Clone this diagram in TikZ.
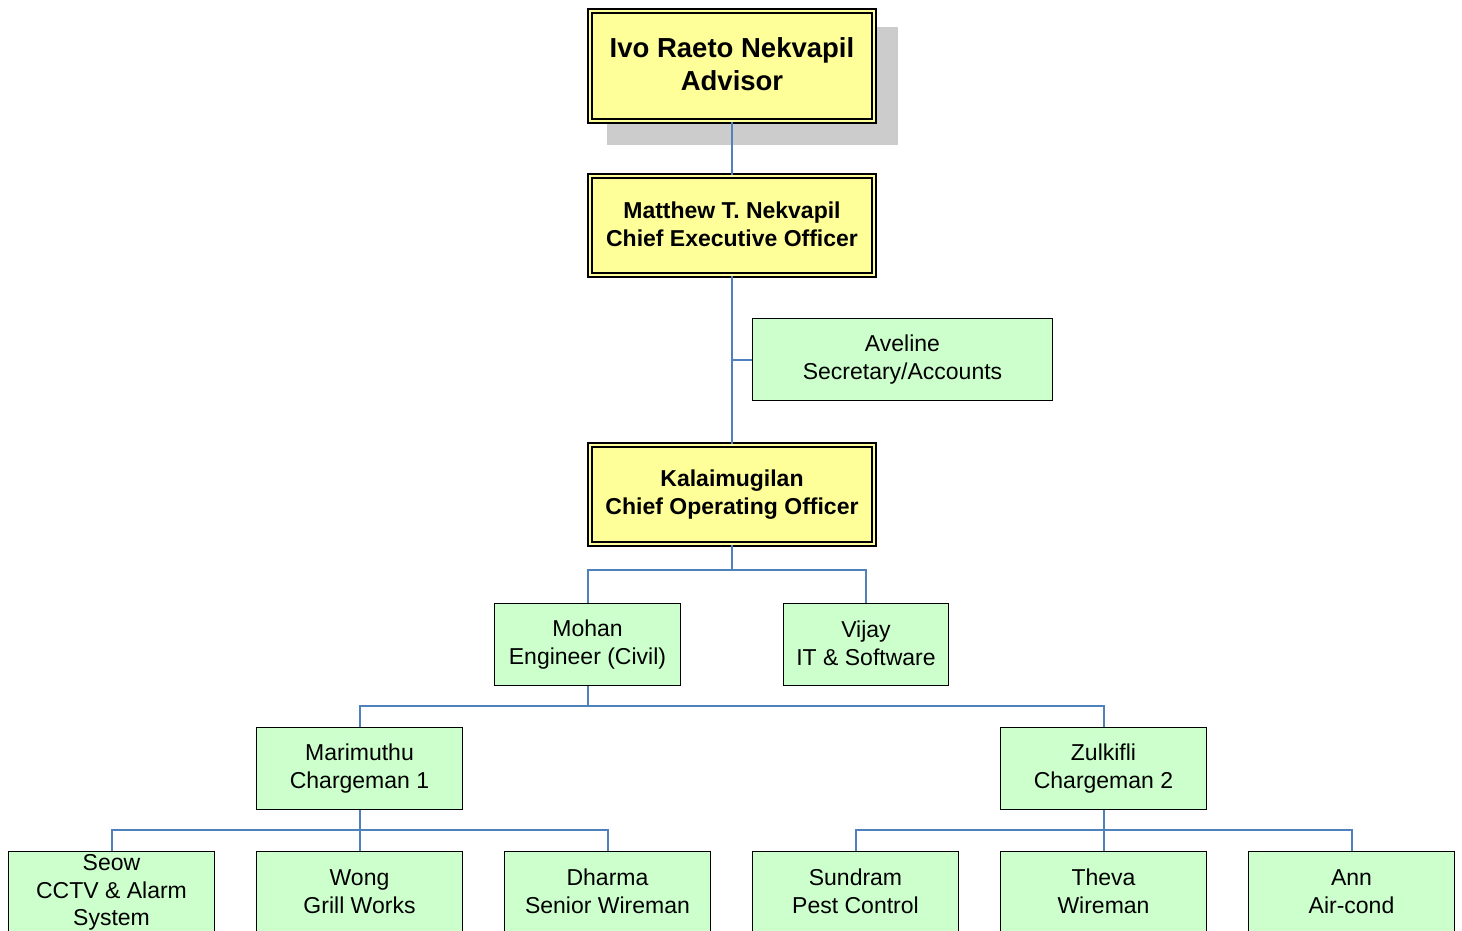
\documentclass[tikz,border=0pt]{standalone}
\usepackage{fontspec}
\setmainfont{Liberation Sans}
\definecolor{boxyellow}{RGB}{255,255,153}
\definecolor{boxgreen}{RGB}{204,255,204}
\definecolor{connblue}{RGB}{79,129,189}
\definecolor{shadowgray}{RGB}{204,204,204}
\newcommand\mytopstrut{\rule{0pt}{\dimexpr0.7\baselineskip+6pt\relax}}
\newcommand\mybotstrut{\rule[\dimexpr-0.3\baselineskip+6pt\relax]{0pt}{\dimexpr0.3\baselineskip-6pt\relax}}
\tikzset{
  ybox/.style={draw=black, line width=1.5pt, double=boxyellow, double distance=2.6pt,
    fill=boxyellow, inner sep=0pt, minimum width=284pt, align=center,
    execute at begin node=\mytopstrut, execute at end node=\mybotstrut,
    font=\fontsize{23}{28}\selectfont\bfseries},
  gbox/.style={draw=black, line width=1.8pt, fill=boxgreen, inner sep=0pt,
    minimum width=206pt, minimum height=82pt, align=center,
    execute at begin node=\mytopstrut, execute at end node=\mybotstrut,
    font=\fontsize{23}{27.5}\selectfont},
  conn/.style={draw=connblue, line width=2pt},
}
\begin{document}
\begin{tikzpicture}[x=1pt,y=-1pt]
\useasboundingbox (0,0) rectangle (1462,930);
\clip (0,0) rectangle (1462,930);
\fill[white] (0,0) rectangle (1462,930);
% shadow
\fill[shadowgray] (607,27) rectangle (898,145);
% nodes
\node[ybox, minimum height=110pt, font=\fontsize{27.5}{33}\selectfont\bfseries] (adv) at (732,66) {Ivo Raeto Nekvapil\\Advisor};
\node[ybox, minimum height=99pt] (ceo) at (732,225.5) {Matthew T. Nekvapil\\Chief Executive Officer};
\node[gbox, minimum width=300pt] (ave) at (902.5,359.5) {Aveline\\Secretary/Accounts};
\node[ybox, minimum height=99pt] (coo) at (732,494.5) {Kalaimugilan\\Chief Operating Officer};
\node[gbox, minimum width=186pt] (mohan) at (587.5,644.5) {Mohan\\Engineer (Civil)};
\node[gbox, minimum width=165pt] (vijay) at (866,644.5) {Vijay\\IT \& Software};
\node[gbox] (mari) at (359.5,768.5) {Marimuthu\\Chargeman 1};
\node[gbox] (zul) at (1103.5,768.5) {Zulkifli\\Chargeman 2};
\node[gbox] (seow) at (111.5,892.5) {Seow\\CCTV \& Alarm\\System};
\node[gbox] (wong) at (359.5,892.5) {Wong\\Grill Works};
\node[gbox] (dharma) at (607.5,892.5) {Dharma\\Senior Wireman};
\node[gbox] (sund) at (855.5,892.5) {Sundram\\Pest Control};
\node[gbox] (theva) at (1103.5,892.5) {Theva\\Wireman};
\node[gbox] (ann) at (1351.5,892.5) {Ann\\Air-cond};
% connectors
\draw[conn] (adv.south) -- (ceo.north);
\draw[conn] (ceo.south) -- (coo.north);
\draw[conn] (ave.west) -- (ave.west -| ceo.south);
\draw[conn] (coo.south) -- ++(0,25) coordinate (j1);
\draw[conn] (j1) -| (mohan.north);
\draw[conn] (j1) -| (vijay.north);
\draw[conn] (mohan.south) -- ++(0,20) coordinate (j2);
\draw[conn] (j2) -| (mari.north);
\draw[conn] (j2) -| (zul.north);
\draw[conn] (mari.south) -- ++(0,20) coordinate (j3);
\draw[conn] (j3) -| (seow.north);
\draw[conn] (j3) -- (wong.north);
\draw[conn] (j3) -| (dharma.north);
\draw[conn] (zul.south) -- ++(0,20) coordinate (j4);
\draw[conn] (j4) -| (sund.north);
\draw[conn] (j4) -- (theva.north);
\draw[conn] (j4) -| (ann.north);
\end{tikzpicture}
\end{document}
